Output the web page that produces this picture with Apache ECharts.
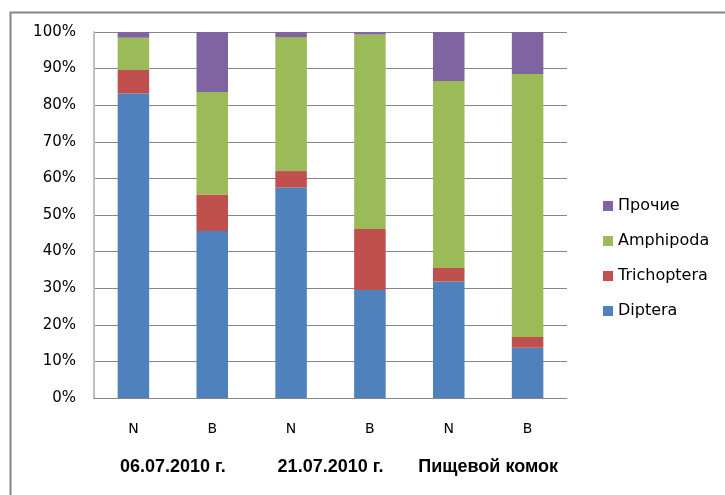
<!DOCTYPE html>
<html>
<head>
<meta charset="utf-8">
<script src="https://cdn.jsdelivr.net/npm/echarts@6/dist/echarts.min.js"></script>
<style>html,body{margin:0;padding:0;background:#fff}#c{width:725px;height:495px}</style>
</head>
<body>
<div id="c"></div>
<script>
var categories = ['N', 'B', 'N', 'B', 'N', 'B'];
var groups = ['06.07.2010 г.', '21.07.2010 г.', 'Пищевой комок'];
var diptera = [83.2, 45.6, 57.5, 29.5, 31.8, 13.7];
var trichoptera = [6.4, 10.0, 4.5, 16.7, 3.7, 3.0];
var amphipoda = [8.8, 28.0, 36.6, 53.1, 51.1, 71.8];
var prochie = [1.6, 16.4, 1.4, 0.7, 13.4, 11.5];
var seriesNames = ['Diptera', 'Trichoptera', 'Amphipoda', 'Прочие'];
var colors = ['#4F81BD', '#C0504D', '#9BBB59', '#8064A2'];

var chart = echarts.init(document.getElementById('c'));
var dataSets = [diptera, trichoptera, amphipoda, prochie];
chart.setOption({
  animation: false,
  graphic: [{
    type: 'rect', left: 8, top: 10, shape: {width: 730, height: 500},
    style: {fill: 'none', stroke: '#868686', lineWidth: 2}
  }],
  grid: {left: 94, right: 158, top: 32, bottom: 97},
  legend: {
    orient: 'vertical', left: 598, top: 193, itemWidth: 10, itemHeight: 10, itemGap: 19,
    data: ['Прочие', 'Amphipoda', 'Trichoptera', 'Diptera'],
    textStyle: {fontFamily: 'DejaVu Sans', fontSize: 16, color: '#000'},
    icon: 'rect'
  },
  xAxis: [{
    type: 'category', data: categories,
    axisLine: {lineStyle: {color: '#868686'}},
    axisTick: {length: 6, lineStyle: {color: '#868686'}},
    axisLabel: {fontFamily: 'DejaVu Sans', fontSize: 14, color: '#000', margin: 24}
  }, {
    type: 'category', data: groups, position: 'bottom',
    axisLine: {show: false}, axisTick: {show: false},
    axisLabel: {interval: 0, hideOverlap: false, fontFamily: 'Liberation Sans', fontWeight: 'bold', fontSize: 18, color: '#000', margin: 60}
  }],
  yAxis: {
    type: 'value', min: 0, max: 100, interval: 10,
    axisLine: {show: true, lineStyle: {color: '#BFBFBF', width: 2}},
    axisTick: {show: false},
    splitLine: {lineStyle: {color: '#868686'}},
    axisLabel: {formatter: '{value}%', fontFamily: 'DejaVu Sans', fontSize: 15, color: '#000', margin: 18}
  },
  series: dataSets.map(function (d, i) {
    return {
      name: seriesNames[i], type: 'bar', stack: 'total', data: d,
      barWidth: '40%', xAxisIndex: 0,
      itemStyle: {color: colors[i]}
    };
  })
});
</script>
</body>
</html>
